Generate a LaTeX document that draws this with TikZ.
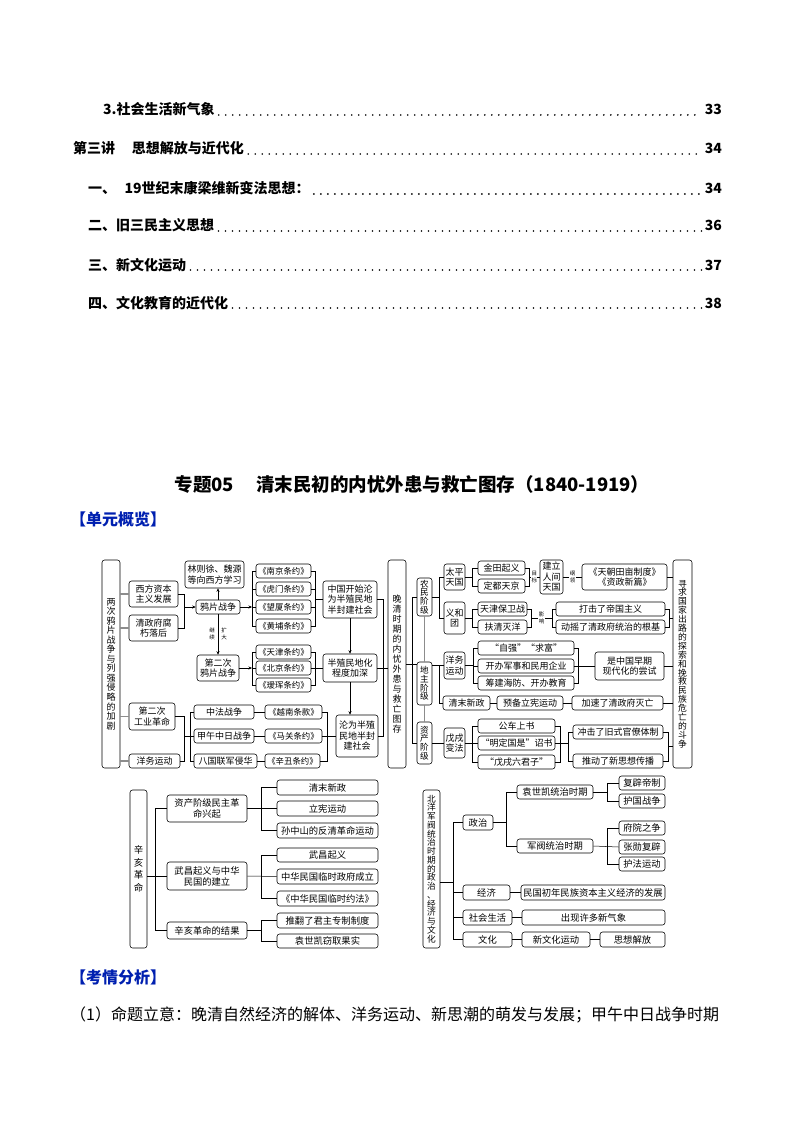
\documentclass[tikz,border=0pt]{standalone}
\usepackage{fontspec}
\setmainfont{Noto Sans CJK SC}
\usetikzlibrary{arrows.meta}
\definecolor{hblue}{RGB}{0,32,176}
\newcommand\dfA{\fontsize{9}{10.5}\selectfont}
\newcommand\dfT{\fontsize{8.4}{10}\selectfont}
\newcommand\dfB{\fontsize{9.3}{11}\selectfont}
\newcommand\dfL{\fontsize{5.5}{6.5}\selectfont}
\newcommand\bx[7][]{\node[box,minimum width={(#5-#3)*1pt},minimum height={(#6-#4)*1pt},#1] (#2) at ({(#3+#5)/2},{(#4+#6)/2}) {#7};}
\tikzset{
  box/.style={draw=black,line width=0.55pt,rounded corners=2.5pt,fill=white,inner sep=0pt,align=center,font=\dfA},
  ln/.style={draw=black,line width=0.5pt},
  gl/.style={draw=black!45,line width=1.1pt},
  ar/.style={ln,-{Stealth[length=3.5pt,width=3pt]}},
  lbl/.style={inner sep=0.3pt,align=center,font=\dfL},
  toc/.style={inner sep=0pt,font=\bfseries\fontsize{14}{16}\selectfont},
  leader/.style={line width=1.8pt,line cap=round,dash pattern=on 0pt off 7pt,shorten <=4pt,shorten >=3pt},
  hdr/.style={inner sep=0pt,text=hblue,font=\bfseries\fontsize{16}{18}\selectfont},
}
\begin{document}
\begin{tikzpicture}[x=1pt,y=-1pt]
\useasboundingbox[fill=white] (0,0) rectangle (794,1123);

% ---------------- TOC ----------------
\node[toc,anchor=base west] (c1) at (103,115) {3.社会生活新气象};
\node[toc,anchor=base east] (c1p) at (722,115) {33};
\draw[leader] (c1.base east) -- (c1p.base west);
\node[toc,anchor=base west] (c2) at (73,154) {第三讲\hspace{1.2em}思想解放与近代化};
\node[toc,anchor=base east] (c2p) at (722,154) {34};
\draw[leader] (c2.base east) -- (c2p.base west);
\node[toc,anchor=base west] (c3) at (88,194) {一、\hspace{0.6em}19世纪末康梁维新变法思想：};
\node[toc,anchor=base east] (c3p) at (722,194) {34};
\draw[leader] (c3.base east) -- (c3p.base west);
\node[toc,anchor=base west] (c4) at (88,231) {二、旧三民主义思想};
\node[toc,anchor=base east] (c4p) at (722,231) {36};
\draw[leader] (c4.base east) -- (c4p.base west);
\node[toc,anchor=base west] (c5) at (88,270) {三、新文化运动};
\node[toc,anchor=base east] (c5p) at (722,270) {37};
\draw[leader] (c5.base east) -- (c5p.base west);
\node[toc,anchor=base west] (c6) at (88,308) {四、文化教育的近代化};
\node[toc,anchor=base east] (c6p) at (722,308) {38};
\draw[leader] (c6.base east) -- (c6p.base west);

% ---------------- headings ----------------
\node[inner sep=0pt,font=\bfseries\fontsize{18.5}{22}\selectfont] (title) at (412,484) {专题05\hspace{1.2em}清末民初的内忧外患与救亡图存（1840-1919）};
\node[hdr,anchor=west] (h1) at (70,519) {【单元概览】};
\node[hdr,anchor=west] (h2) at (70,977) {【考情分析】};
\node[inner sep=0pt,anchor=west,font=\fontsize{16}{18}\selectfont] (p1) at (70,1015) {（1）命题立意：晚清自然经济的解体、洋务运动、新思潮的萌发与发展；甲午中日战争时期};

% ---------------- top diagram: left ----------------
\bx[font=\fontsize{9}{9.55}\selectfont]{L0}{102}{560}{120}{768}{两\\次\\鸦\\片\\战\\争\\与\\列\\强\\侵\\略\\的\\加\\剧}
\bx{xf}{129}{581}{178}{607}{西方资本\\主义发展}
\bx{qz}{129}{615}{178}{641}{清政府腐\\朽落后}
\bx{yp}{196}{600}{240}{614}{鸦片战争}
\bx{lz}{185}{561}{244}{588}{林则徐、魏源\\等向西方学习}
\bx{ep}{197}{655}{239}{681}{第二次\\鸦片战争}
\bx[font=\dfT]{n1}{256}{564}{311}{578}{《南京条约》}
\bx[font=\dfT]{n2}{256}{582}{311}{596}{《虎门条约》}
\bx[font=\dfT]{n3}{256}{600}{311}{614}{《望厦条约》}
\bx[font=\dfT]{n4}{256}{619}{311}{633}{《黄埔条约》}
\bx{zg}{323}{581}{377}{618}{中国开始沦\\为半殖民地\\半封建社会}
\bx[font=\dfT]{t1}{256}{645}{311}{659}{《天津条约》}
\bx[font=\dfT]{t2}{256}{661}{311}{675}{《北京条约》}
\bx[font=\dfT]{t3}{256}{678}{311}{692}{《瑷珲条约》}
\bx{bz}{323}{654}{377}{682}{半殖民地化\\程度加深}
\bx{gy}{129}{703}{175}{730}{第二次\\工业革命}
\bx{ywL}{129}{754}{180}{768}{洋务运动}
\bx{zf}{194}{705}{254}{719}{中法战争}
\bx{jw}{194}{729}{254}{743}{甲午中日战争}
\bx{bg}{194}{754}{257}{768}{八国联军侵华}
\bx[font=\dfT]{yn}{265}{705}{322}{719}{《越南条款》}
\bx[font=\dfT]{mg}{265}{729}{322}{743}{《马关条约》}
\bx[font=\dfT]{xc}{265}{754}{320}{768}{《辛丑条约》}
\bx{lw}{336}{715}{378}{757}{沦为半殖\\民地半封\\建社会}
\bx[font=\fontsize{9}{10}\selectfont]{wq}{388}{560}{406}{768}{晚\\清\\时\\期\\的\\内\\忧\\外\\患\\与\\救\\亡\\图\\存}

\draw[gl] (L0.east |- xf.west) -- (xf.west);
\draw[gl] (L0.east |- qz.west) -- (qz.west);
\draw[gl] (L0.east |- gy.west) -- (gy.west);
\draw[gl] (L0.east |- ywL.west) -- (ywL.west);
\draw[ln] (xf.east) -- (184,594) -- (184,628) -- (qz.east);
\coordinate (k1) at (184,607);
\draw[ar] (k1) -- (yp.west);
\draw[ar] (yp.north) -- (yp.north |- lz.south);
\draw[ar] (yp.south) -- (yp.south |- ep.north);
\node[lbl] (lb1) at (212,634) {继\\续};
\node[lbl] (lb2) at (224,634) {扩\\大};
\coordinate (k2) at (252,607);
\draw[ar] (yp.east) -- (k2);
\draw[ln] (n1.west) -- (252,571) -- (252,626) -- (n4.west);
\draw[ln] (n2.west) -- (252,589);
\draw[ln] (n3.west) -- (252,607);
\draw[ln] (n1.east) -- (315,571) -- (315,626) -- (n4.east);
\draw[ln] (n2.east) -- (315,589);
\draw[ln] (n3.east) -- (315,607);
\draw[ln] (315,599.5) -- (zg.west);
\coordinate (k3) at (252,668);
\draw[ar] (ep.east) -- (k3);
\draw[ln] (t1.west) -- (252,652) -- (252,685) -- (t3.west);
\draw[ln] (t2.west) -- (k3);
\draw[ln] (t1.east) -- (315,652) -- (315,685) -- (t3.east);
\draw[ln] (t2.east) -- (bz.west);
\draw[ar] (zg.south) -- (zg.south |- bz.north);
\draw[ar] (bz.south) -- (bz.south |- lw.north);
\draw[ln] (zg.east) -- (383,599.5) -- (383,736) -- (lw.east);
\draw[ln] (bz.east) -- (bz.east -| wq.west);
\draw[ln] (gy.east) -- (184,716.5) -- (184,761) -- (ywL.east);
\draw[ln] (zf.west) -- (190,712) -- (190,761) -- (bg.west);
\coordinate (k4) at (184,736);
\draw[ln] (k4) -- (jw.west);
\draw[ln] (zf.east) -- (yn.west);
\draw[ln] (jw.east) -- (mg.west);
\draw[ln] (bg.east) -- (xc.west);
\draw[ln] (yn.east) -- (327,712) -- (327,761) -- (xc.east);
\draw[ln] (mg.east) -- (lw.west);

% ---------------- top diagram: right ----------------
\bx[font=\fontsize{8.6}{8.6}\selectfont]{nm}{417}{578}{432}{616}{农\\民\\阶\\级}
\bx[font=\fontsize{8.6}{8.6}\selectfont]{dz}{417}{662}{432}{705}{地\\主\\阶\\级}
\bx[font=\fontsize{8.6}{8.6}\selectfont]{zc}{417}{722}{432}{764}{资\\产\\阶\\级}
\bx{tp}{444}{564}{465}{590}{太平\\天国}
\bx{yh}{444}{602}{465}{634}{义和\\团}
\bx{jt}{478}{561}{525}{575}{金田起义}
\bx{dd}{478}{579}{525}{593}{定都天京}
\bx{jl}{540}{560}{563}{594}{建立\\人间\\天国}
\bx{tc}{582}{564}{667}{590}{《天朝田亩制度》\\《资政新篇》}
\bx{tj}{478}{602}{527}{616}{天津保卫战}
\bx{fq}{478}{620}{527}{634}{扶清灭洋}
\bx{dj}{556}{602}{665}{616}{打击了帝国主义}
\bx{dy}{556}{620}{665}{634}{动摇了清政府统治的根基}
\bx{ywR}{444}{652}{465}{679}{洋务\\运动}
\bx{zq}{478}{641}{574}{655}{“自强”“求富”}
\bx{kb}{478}{659}{574}{673}{开办军事和民用企业}
\bx{cj}{478}{676}{574}{690}{筹建海防、开办教育}
\bx{sz}{595}{652}{664}{680}{是中国早期\\现代化的尝试}
\bx{qm}{443}{696}{490}{710}{清末新政}
\bx{yb}{497}{696}{563}{710}{预备立宪运动}
\bx{js}{572}{696}{663}{710}{加速了清政府灭亡}
\bx{wx}{444}{728}{465}{758}{戊戌\\变法}
\bx{gc}{478}{719}{555}{733}{公车上书}
\bx{md}{478}{736}{555}{750}{“明定国是”诏书}
\bx{lj}{478}{755}{555}{769}{“戊戌六君子”}
\bx{cq}{573}{725}{663}{739}{冲击了旧式官僚体制}
\bx{td}{573}{754}{663}{768}{推动了新思想传播}
\bx[font=\fontsize{8.8}{8.9}\selectfont]{xq}{673}{560}{692}{768}{寻\\求\\国\\家\\出\\路\\的\\探\\索\\和\\挽\\救\\民\\族\\危\\亡\\的\\斗\\争}

\draw[ln] (wq.east) -- (wq.east -| dz.west);
\draw[ln] (nm.west) -- (412,597) -- (412,743) -- (zc.west);
\draw[gl] (nm.south) -- (dz.north);
\draw[gl] (dz.south) -- (zc.north);
\draw[ln] (nm.east) -- (439,597);
\draw[ln] (tp.west) -- (439,577) -- (439,618) -- (yh.west);
\draw[ln] (tp.east) -- (472,577);
\draw[ln] (jt.west) -- (472,568) -- (472,586) -- (dd.west);
\draw[ln] (jt.east) -- (529,568) -- (529,586) -- (dd.east);
\coordinate (k5) at (529,577);
\draw[ln] (k5) -- (jl.west) node[lbl,midway,fill=white] (lb3) {目\\标};
\draw[ln] (jl.east) -- (tc.west) node[lbl,midway,fill=white] (lb4) {纲\\领};
\draw[ln] (tc.east) -- (tc.east -| xq.west);
\draw[ln] (yh.east) -- (472,618);
\draw[ln] (tj.west) -- (472,609) -- (472,627) -- (fq.west);
\draw[ln] (tj.east) -- (531,609) -- (531,627) -- (fq.east);
\draw[ln] (dj.west) -- (552,609) -- (552,627) -- (dy.west);
\coordinate (k6) at (531,618);
\coordinate (k7) at (552,618);
\draw[ln] (k6) -- (k7) node[lbl,midway,fill=white] (lb5) {影\\响};
\draw[ln] (dj.east) -- (669,609) -- (669,627) -- (dy.east);
\draw[ln] (669,618) -- (673,618);
\draw[ln] (dz.east |- ywR.west) -- (ywR.west);
\draw[ln] (439,665.5) -- (439,703) -- (qm.west);
\draw[ln] (ywR.east) -- (473,665.5);
\draw[ln] (zq.west) -- (473,648) -- (473,683) -- (cj.west);
\draw[ln] (kb.west) -- (473,666);
\draw[ln] (zq.east) -- (578,648) -- (578,683) -- (cj.east);
\draw[ln] (kb.east) -- (sz.west);
\draw[ln] (sz.east) -- (sz.east -| xq.west);
\draw[ln] (qm.east) -- (yb.west);
\draw[ln] (yb.east) -- (js.west);
\draw[ln] (js.east) -- (js.east -| xq.west);
\draw[ln] (zc.east) -- (wx.west);
\draw[ln] (gc.west) -- (472,726) -- (472,762) -- (lj.west);
\draw[ln] (wx.east) -- (md.west);
\draw[ln] (gc.east) -- (560,726) -- (560,762) -- (lj.east);
\draw[ln] (md.east) -- (568,743);
\draw[ln] (cq.west) -- (568,732) -- (568,761) -- (td.west);
\draw[ln] (cq.east) -- (668,732) -- (668,761) -- (td.east);
\draw[ln] (668,746) -- (673,746);

% ---------------- bottom-left diagram ----------------
\bx[font=\fontsize{9.5}{12.7}\selectfont]{xh}{130}{790}{147}{948}{辛\\亥\\革\\命}
\bx[font=\dfB]{zs}{167}{795}{247}{822}{资产阶级民主革\\命兴起}
\bx[font=\dfB]{wc}{167}{862}{247}{890}{武昌起义与中华\\民国的建立}
\bx[font=\dfB]{jg}{167}{922}{247}{939}{辛亥革命的结果}
\bx[font=\dfB]{a1}{277}{780}{378}{795}{清末新政}
\bx[font=\dfB]{a2}{277}{801}{378}{816}{立宪运动}
\bx[font=\dfB]{a3}{277}{823}{378}{838}{孙中山的反清革命运动}
\bx[font=\dfB]{b1}{277}{848}{378}{862}{武昌起义}
\bx[font=\dfB]{b2}{277}{869}{378}{884}{中华民国临时政府成立}
\bx[font=\dfB]{b3}{277}{891}{378}{906}{《中华民国临时约法》}
\bx[font=\dfB]{e1}{277}{913}{378}{928}{推翻了君主专制制度}
\bx[font=\dfB]{e2}{277}{934}{378}{948}{袁世凯窃取果实}

\draw[ln] (zs.west) -- (155,808.5) -- (155,930.5) -- (jg.west);
\draw[ln] (xh.east |- wc.west) -- (wc.west);
\draw[ln] (a1.west) -- (261,787.5) -- (261,830.5) -- (a3.west);
\draw[ln] (zs.east) -- (a2.west);
\draw[ln] (b1.west) -- (261,855) -- (261,898.5) -- (b3.west);
\draw[ln] (wc.east) -- (b2.west);
\draw[ln] (e1.west) -- (261,920.5) -- (261,941) -- (e2.west);
\draw[ln] (jg.east) -- (261,930.5);

% ---------------- bottom-right diagram ----------------
\bx[font=\fontsize{8.7}{8.75}\selectfont]{by}{423}{790}{440}{948}{北\\洋\\军\\阀\\统\\治\\时\\期\\的\\政\\治\\、\\经\\济\\与\\文\\化}
\bx[font=\dfB]{zz}{463}{815}{493}{830}{政治}
\bx[font=\dfB]{jj}{463}{885}{510}{900}{经济}
\bx[font=\dfB]{sh}{463}{910}{512}{925}{社会生活}
\bx[font=\dfB]{wh}{463}{932}{512}{947}{文化}
\bx[font=\dfB]{ys}{517}{785}{593}{799}{袁世凯统治时期}
\bx[font=\dfB]{jf}{517}{839}{593}{853}{军阀统治时期}
\bx[font=\dfB]{fp}{619}{776}{665}{790}{复辟帝制}
\bx[font=\dfB]{hg}{619}{794}{665}{808}{护国战争}
\bx[font=\dfB]{fy}{619}{821}{665}{835}{府院之争}
\bx[font=\dfB]{zx}{619}{840}{665}{854}{张勋复辟}
\bx[font=\dfB]{hf}{619}{857}{665}{871}{护法运动}
\bx[font=\dfB]{mz}{521}{885}{665}{900}{民国初年民族资本主义经济的发展}
\bx[font=\dfB]{cx}{522}{910}{665}{925}{出现许多新气象}
\bx[font=\dfB]{xw}{522}{932}{590}{947}{新文化运动}
\bx[font=\dfB]{sj}{600}{932}{665}{947}{思想解放}

\coordinate (k8) at (453,882);
\draw[ln] (by.east |- k8) -- (k8);
\draw[ln] (zz.west) -- (453,822.5) -- (453,939.5) -- (wh.west);
\draw[ln] (jj.west) -- (453,892.5);
\draw[ln] (sh.west) -- (453,917.5);
\draw[ln] (ys.west) -- (506,792) -- (506,846) -- (jf.west);
\draw[ln] (zz.east) -- (506,822.5);
\draw[ln] (fp.west) -- (607,783) -- (607,801) -- (hg.west);
\draw[ln] (ys.east) -- (607,792);
\draw[ln] (fy.west) -- (607,828) -- (607,864) -- (hf.west);
\draw[ln] (jf.east) -- (zx.west);
\draw[ln] (jj.east) -- (mz.west);
\draw[ln] (sh.east) -- (cx.west);
\draw[ln] (wh.east) -- (xw.west);
\draw[ln] (xw.east) -- (sj.west);
\end{tikzpicture}
\end{document}
